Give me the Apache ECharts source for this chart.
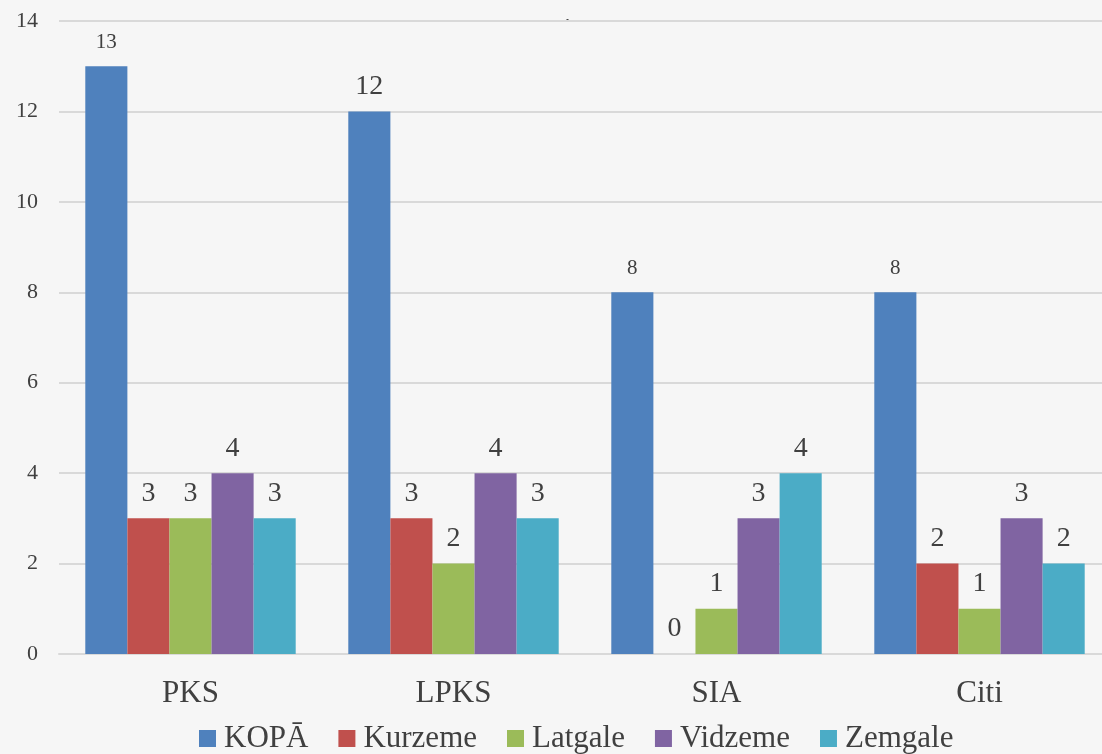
<!DOCTYPE html>
<html>
<head>
<meta charset="utf-8">
<script src="https://cdn.jsdelivr.net/npm/echarts@6/dist/echarts.min.js"></script>
<style>
  html, body { margin: 0; padding: 0; background: #f6f6f6; }
  #chart { width: 1102px; height: 754px; }
</style>
</head>
<body>
<div id="chart"></div>
<script>
// datu masīvi
var categories = ['PKS', 'LPKS', 'SIA', 'Citi'];
var seriesNames = ['KOPĀ', 'Kurzeme', 'Latgale', 'Vidzeme', 'Zemgale'];
var kopa = [13, 12, 8, 8];
var kurzeme = [3, 3, 0, 2];
var latgale = [3, 2, 1, 1];
var vidzeme = [4, 4, 3, 3];
var zemgale = [3, 3, 4, 2];
var yTicks = [0, 2, 4, 6, 8, 10, 12, 14];

var colors = ['#4F81BD', '#C0504D', '#9BBB59', '#8064A2', '#4BACC6'];
var font = '"Liberation Serif", "DejaVu Serif", serif';
// dažiem uzrakstiem mazāks šrifts (kā oriģinālā)
var smallLabel = { 'KOPĀ': [0, 2, 3] };

var allValues = [kopa, kurzeme, latgale, vidzeme, zemgale];

var series = seriesNames.map(function (name, si) {
    var small = smallLabel[name] || [];
    return {
        name: name,
        type: 'bar',
        barGap: 0,
        barCategoryGap: '20%',
        itemStyle: { color: colors[si] },
        label: {
            show: true,
            position: 'top',
            distance: 11,
            color: '#404040',
            fontFamily: font,
            fontSize: 28
        },
        data: allValues[si].map(function (v, i) {
            if (small.indexOf(i) >= 0) {
                return { value: v, label: { fontSize: 21, distance: 13 } };
            }
            return v;
        })
    };
});

var myChart = echarts.init(document.getElementById('chart'));
var option = {
    backgroundColor: '#f6f6f6',
    animation: false,
    textStyle: { fontFamily: font },
    graphic: [{
        type: 'circle',
        left: 566,
        top: 19,
        shape: { r: 1.5 },
        style: { fill: '#333' }
    }],
    legend: {
        bottom: -5,
        left: 194,
        itemWidth: 17,
        itemHeight: 17,
        itemGap: 30,
        icon: 'rect',
        textStyle: { fontSize: 31, color: '#404040', fontFamily: font, padding: [0, 0, 0, 3] },
        data: seriesNames
    },
    grid: {
        left: 59,
        width: 1052,
        top: 21,
        bottom: 100,
        containLabel: false,
        outerBoundsMode: 'none'
    },
    xAxis: {
        type: 'category',
        data: categories,
        axisTick: { show: false },
        axisLine: { lineStyle: { color: '#d9d9d9', width: 2 } },
        axisLabel: { color: '#404040', fontSize: 31, fontFamily: font, margin: 24 }
    },
    yAxis: {
        type: 'value',
        min: yTicks[0],
        max: yTicks[yTicks.length - 1],
        interval: 2,
        axisLine: { show: false },
        axisTick: { show: false },
        splitLine: { lineStyle: { color: '#d9d9d9', width: 2 } },
        axisLabel: { color: '#404040', fontSize: 22, fontFamily: font, margin: 21 }
    },
    series: series
};
myChart.setOption(option);
</script>
</body>
</html>
